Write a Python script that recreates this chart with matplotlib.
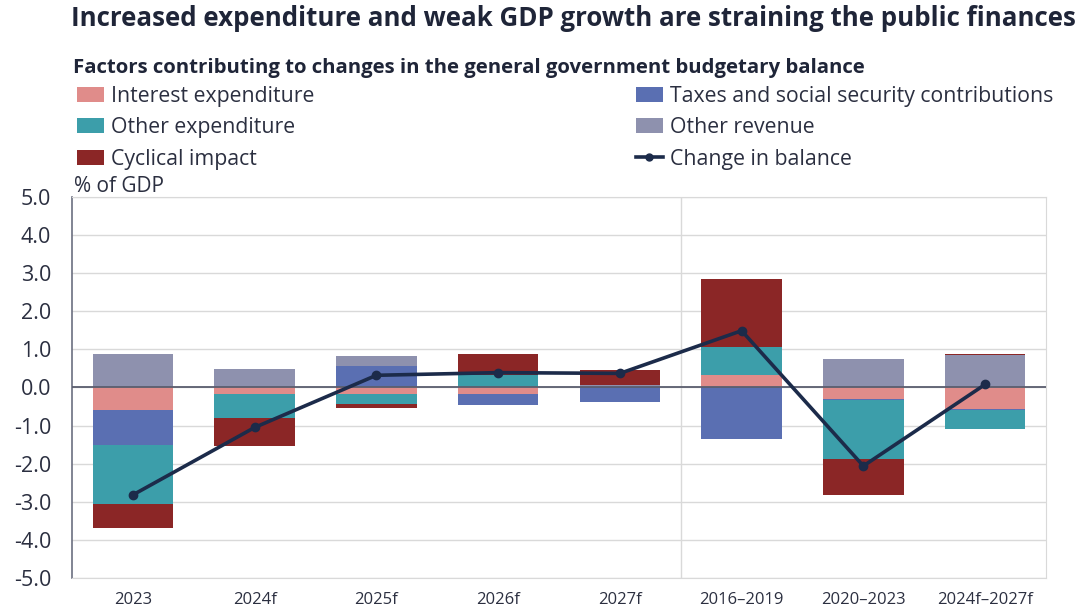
import numpy as np
import matplotlib
matplotlib.use("Agg")
import matplotlib.pyplot as plt
from matplotlib.patches import Patch
from matplotlib.lines import Line2D

plt.rcParams['font.family'] = ['Open Sans', 'DejaVu Sans']

categories = ["2023", "2024f", "2025f", "2026f", "2027f", "2016–2019", "2020–2023", "2024f–2027f"]

# contributions, % of GDP (stacking order: interest, taxes, other exp, other revenue, cyclical)
interest = [-0.59, -0.18, -0.18, -0.17, 0.0, 0.32, -0.29, -0.57]
taxes = [-0.91, 0.0, 0.56, -0.29, -0.38, -1.36, -0.04, -0.03]
other_exp = [-1.57, -0.61, -0.26, 0.34, 0.0, 0.73, -1.56, -0.49]
other_rev = [0.87, 0.49, 0.27, 0.0, 0.07, 0.0, 0.76, 0.84]
cyclical = [-0.61, -0.75, -0.09, 0.53, 0.40, 1.80, -0.94, 0.04]
change = [-2.82, -1.05, 0.32, 0.39, 0.37, 1.49, -2.06, 0.08]

series = [
    ("Interest expenditure", interest, "#e08c8a"),
    ("Taxes and social security contributions", taxes, "#5a6fb2"),
    ("Other expenditure", other_exp, "#3c9eaa"),
    ("Other revenue", other_rev, "#8e91ae"),
    ("Cyclical impact", cyclical, "#8b2626"),
]
line_color = "#1c2b4a"
txt = "#2b2f40"

fig = plt.figure(figsize=(10.79, 6.12), dpi=100)
ax = fig.add_axes([0.0667, 0.0556, 0.9027, 0.6225])

x = np.arange(len(categories))
pos_base = np.zeros(len(categories))
neg_base = np.zeros(len(categories))
for name, vals, col in series:
    v = np.array(vals)
    bottom = np.where(v >= 0, pos_base, neg_base)
    ax.bar(x, v, 0.66, bottom=bottom, color=col, zorder=2)
    pos_base += np.where(v >= 0, v, 0)
    neg_base += np.where(v < 0, v, 0)

ax.plot(x, change, color=line_color, lw=2.6, marker="o", ms=6, zorder=4)

ax.axhline(0, color="#5a5e6e", lw=1.3, zorder=3)
ax.axvline(4.5, color="#d9d9d9", lw=1, zorder=1)

ax.set_xlim(-0.5, 7.5)
ax.set_ylim(-5, 5)
yt = np.arange(-5, 5.1, 1)
ax.set_yticks(yt)
ax.set_yticklabels([f"{t:.1f}" for t in yt], fontsize=15.5, color=txt)
ax.set_xticks(x)
ax.set_xticklabels(categories, fontsize=12, color=txt)
ax.tick_params(axis="both", length=0)
ax.tick_params(axis="x", pad=10)
ax.tick_params(axis="y", pad=15)
ax.grid(axis="y", color="#d9d9d9", lw=1, zorder=0)
for s in ["top", "right", "bottom"]:
    ax.spines[s].set_color("#d9d9d9")
ax.spines["left"].set_color("#6b6f80")
ax.spines["left"].set_linewidth(1.2)

fig.text(0.066, 0.969, "Increased expenditure and weak GDP growth are straining the public finances",
         fontsize=18.6, fontweight="bold", color="#1f2538", va="center")
fig.text(0.068, 0.889, "Factors contributing to changes in the general government budgetary balance",
         fontsize=14.7, fontweight="bold", color="#1f2538", va="center")
fig.text(0.069, 0.696, "% of GDP", fontsize=15, color=txt, va="center")

def handle(col):
    return Patch(facecolor=col, edgecolor="none")

left = [handle(series[0][2]), handle(series[2][2]), handle(series[4][2])]
left_lbl = ["Interest expenditure", "Other expenditure", "Cyclical impact"]
right = [handle(series[1][2]), handle(series[3][2]),
         Line2D([], [], color=line_color, lw=2.6, marker="o", ms=5)]
right_lbl = ["Taxes and social security contributions", "Other revenue", "Change in balance"]

kw = dict(frameon=False, fontsize=15.3, handlelength=1.3, handleheight=0.7,
          handletextpad=0.3, labelspacing=0.5, borderaxespad=0, borderpad=0,
          labelcolor=txt)
fig.legend(left, left_lbl, loc="upper left", bbox_to_anchor=(0.071, 0.86), **kw)
fig.legend(right, right_lbl, loc="upper left", bbox_to_anchor=(0.589, 0.86), **kw)

fig.savefig("out.png", dpi=100)
